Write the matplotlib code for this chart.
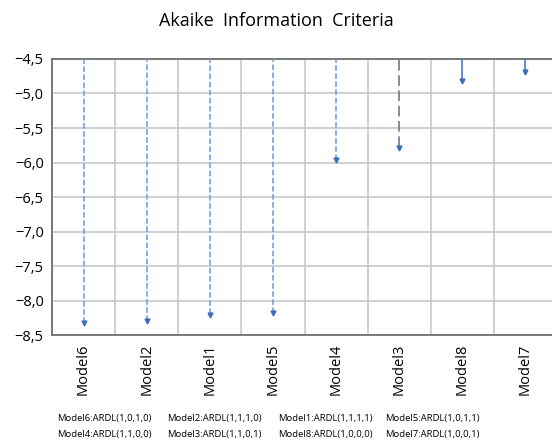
import matplotlib
matplotlib.use("Agg")
import matplotlib.pyplot as plt
from matplotlib.ticker import FuncFormatter

# data
models = ["Model6", "Model2", "Model1", "Model5", "Model4", "Model3", "Model8", "Model7"]
aic = [-8.36, -8.33, -8.24, -8.22, -6.00, -5.82, -4.85, -4.72]
line_styles = ["dashed", "dashed", "dashed", "dashed", "dashed", (0, (7, 3)), "solid", "solid"]
line_colors = ["#6E9AD3", "#6E9AD3", "#6E9AD3", "#6E9AD3", "#6E9AD3", "#5E6E88", "#3A6FBA", "#3A6FBA"]
notes = ["Model6:ARDL(1,0,1,0)", "Model2:ARDL(1,1,1,0)", "Model1:ARDL(1,1,1,1)", "Model5:ARDL(1,0,1,1)",
         "Model4:ARDL(1,1,0,0)", "Model3:ARDL(1,1,0,1)", "Model8:ARDL(1,0,0,0)", "Model7:ARDL(1,0,0,1)"]
ytop = -4.5

plt.rcParams['font.family'] = ['Open Sans', 'DejaVu Sans']

fig = plt.figure(figsize=(5.52, 4.4), dpi=100)
W, H = 552, 440
ax = fig.add_axes([52 / W, 1 - 335 / H, 505 / W, (335 - 59) / H])

x = list(range(len(models)))
for i in x:
    ax.vlines(i, aic[i] + 0.04, ytop, colors=line_colors[i], linestyles=line_styles[i], lw=1.1, zorder=3)
    ax.plot(i, aic[i] + 0.035, marker="v", color="#3A6FBA", ms=3.5, zorder=4)

ax.set_xlim(-0.5, len(models) - 0.5)
ax.set_ylim(-8.5, -4.5)
ax.set_yticks([-8.5, -8.0, -7.5, -7.0, -6.5, -6.0, -5.5, -5.0, -4.5])
ax.yaxis.set_major_formatter(FuncFormatter(lambda v, p: ("%.1f" % v).replace("-", "\u2212").replace(".", ",")))
ax.set_xticks(x)
ax.set_xticklabels(models, rotation=90, fontsize=10.5)
ax.set_xticks([i - 0.5 for i in range(len(models) + 1)], minor=True)
ax.tick_params(axis="y", labelsize=10.5, length=0, pad=6)
ax.tick_params(axis="x", which="both", length=0, pad=6)
ax.grid(True, axis="y", color="#C8C8C8", lw=1.2)
ax.grid(True, axis="x", which="minor", color="#C8C8C8", lw=1.2)
ax.grid(False, axis="x", which="major")
for s in ["top", "bottom", "left"]:
    ax.spines[s].set_color("#707070")
    ax.spines[s].set_linewidth(1.3)
ax.spines["right"].set_visible(False)

fig.text(0.5, 1 - 21 / H, "Akaike  Information  Criteria", ha="center", va="center", fontsize=13)

cols = [57, 167, 278, 385]
for k, t in enumerate(notes):
    r, c = divmod(k, 4)
    fig.text(cols[c] / W, 1 - (418 + r * 16) / H, t, fontsize=6.8, va="center", ha="left")

fig.savefig("out.png", dpi=100)
